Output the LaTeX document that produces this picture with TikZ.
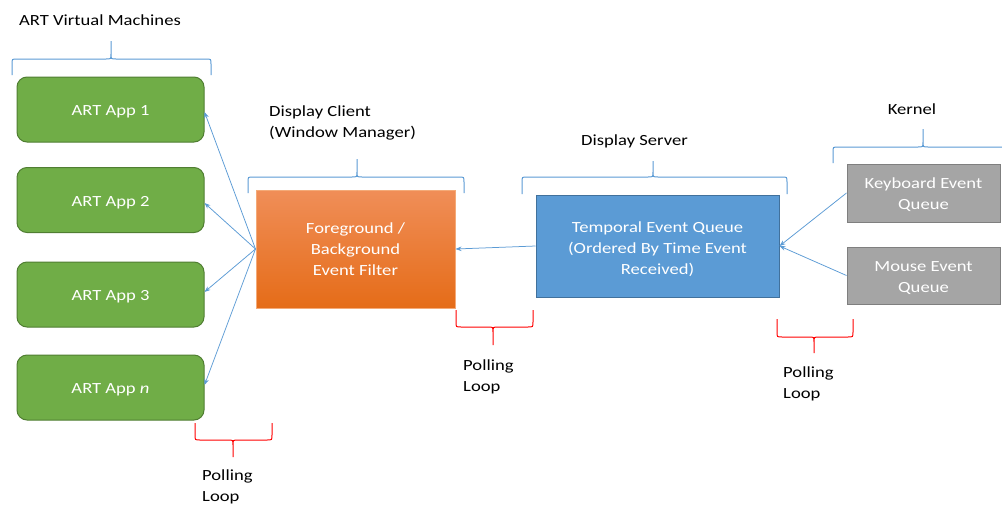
\documentclass[tikz,border=0pt]{standalone}
\usepackage{fontspec}
\setmainfont{Carlito}[FakeStretch=1.2]
\usetikzlibrary{arrows.meta}

\definecolor{appgreen}{HTML}{70AD47}
\definecolor{appgreenline}{HTML}{507E32}
\definecolor{filtertop}{RGB}{240,142,88}
\definecolor{filterbot}{RGB}{229,108,24}
\definecolor{filterline}{RGB}{244,170,120}
\definecolor{queueblue}{HTML}{5B9BD5}
\definecolor{queueline}{HTML}{41719C}
\definecolor{kgray}{HTML}{A5A5A5}
\definecolor{kgrayline}{HTML}{7F7F7F}
\definecolor{linkblue}{HTML}{5B9BD5}

% brace: colour, x0, xtip, x1, yend, yline, ytip
\newcommand\ofbrace[7]{%
  \draw[#1] (#2,#5) -- (#2,{#6+5*sign(#5-#6)}) .. controls (#2,#6) .. ({#2+5},#6)
    -- ({#3-5},#6) .. controls (#3,#6) .. (#3,{#6+5*sign(#7-#6)}) -- (#3,#7)
    (#3,{#6+5*sign(#7-#6)}) .. controls (#3,#6) .. ({#3+5},#6)
    -- ({#4-5},#6) .. controls (#4,#6) .. (#4,{#6+5*sign(#5-#6)}) -- (#4,#5);}

% stacked lines, lowered inside their box by #1 without changing its size
\newcommand\ctext[2]{\raisebox{-#1}[\height][\depth]{\begin{tabular}{@{}c@{}}#2\end{tabular}}}
\newcommand\ltext[1]{\begin{tabular}{@{}l@{}}#1\end{tabular}}

\tikzset{
  txt/.style={font=\fontsize{15.5}{21}\selectfont, inner sep=0pt},
  label/.style={txt, text=black},
  box/.style={txt, text=white, line width=1pt},
  app/.style={box, fill=appgreen, draw=appgreenline, rounded corners=10pt,
              minimum width=187pt, minimum height=65pt},
  arr/.style={draw=linkblue, line width=0.75pt, -{Stealth[length=6pt,width=4.5pt]}},
  bluebrace/.style={draw=linkblue, line width=1pt},
  redbrace/.style={draw=red, line width=1pt},
}

\begin{document}
\begin{tikzpicture}[x=1pt, y=-1pt]
\useasboundingbox (0,0) rectangle (1002,504);
\clip (0,0) rectangle (1002,504);
\fill[white] (0,0) rectangle (1002,504);

% group labels
\node[label] (vmlabel) at (100,21) {\ltext{ART Virtual Machines}};
\node[label, anchor=west] (dclabel) at (269,122.8) {\ltext{Display Client\\(Window Manager)}};
\node[label] (dslabel) at (634.5,141) {\ltext{Display Server}};
\node[label] (klabel) at (912,110) {\ltext{Kernel}};

% applications
\node[app] (app1) at (110.5,109.5) {\ctext{2pt}{ART App 1}};
\node[app] (app2) at (110.5,200) {\ctext{2pt}{ART App 2}};
\node[app] (app3) at (110.5,294.5) {\ctext{2pt}{ART App 3}};
\node[app] (appn) at (110.5,387.5) {\ctext{2pt}{ART App \textit{n}}};

% window manager filter
\node[box, draw=filterline, top color=filtertop, bottom color=filterbot,
      minimum width=199pt, minimum height=118pt] (filter) at (355.5,249)
      {\ctext{1pt}{Foreground /\\Background\\Event Filter}};

% display server queue
\node[box, fill=queueblue, draw=queueline, minimum width=243pt, minimum height=102pt]
      (queue) at (657.5,246) {\ctext{3pt}{Temporal Event Queue\\(Ordered By Time Event\\Received)}};

% kernel queues
\node[box, fill=kgray, draw=kgrayline, minimum width=153pt, minimum height=58pt]
      (kbd) at (923.5,193) {\ctext{2pt}{Keyboard Event\\Queue}};
\node[box, fill=kgray, draw=kgrayline, minimum width=153pt, minimum height=57pt]
      (mouse) at (923.5,275.5) {\ctext{2pt}{Mouse Event\\Queue}};

% polling loop labels
\node[label, anchor=west] (poll1) at (202,486.8) {\ltext{Polling\\Loop}};
\node[label, anchor=west] (poll2) at (463,376.3) {\ltext{Polling\\Loop}};
\node[label, anchor=west] (poll3) at (783,383.8) {\ltext{Polling\\Loop}};

% event flow
\draw[arr] (filter.west) -- ([yshift=-2.5pt]app1.east);
\draw[arr] (filter.west) -- ([yshift=-3pt]app2.east);
\draw[arr] (filter.west) -- ([yshift=2.5pt]app3.east);
\draw[arr] (filter.west) -- ([yshift=2.5pt]appn.east);
\draw[arr] (queue.west) -- (filter.east);
\draw[arr] (kbd.west) -- (queue.east);
\draw[arr] (mouse.west) -- (queue.east);

% group braces
\ofbrace{bluebrace}{12}{111}{211}{75}{59}{41}
\ofbrace{bluebrace}{248}{357}{464}{193}{177}{159}
\ofbrace{bluebrace}{522}{653}{787}{194}{177}{161}
\ofbrace{bluebrace}{833}{923}{1013}{163}{147}{129}

% polling braces
\ofbrace{redbrace}{195}{233}{272}{423}{440}{457}
\ofbrace{redbrace}{456}{493}{533}{310}{327}{345}
\ofbrace{redbrace}{777}{814}{853}{319}{337}{353}
\end{tikzpicture}
\end{document}
